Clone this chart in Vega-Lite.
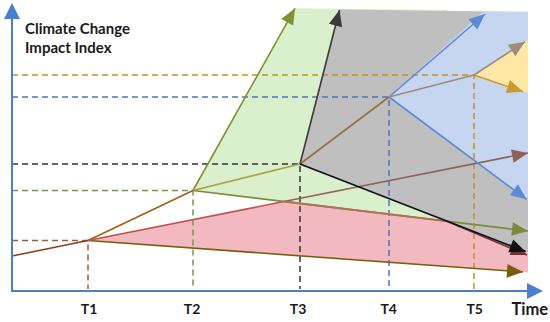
{
  "$schema": "https://vega.github.io/schema/vega-lite/v6.json",
  "width": 550,
  "height": 322,
  "autosize": {"type": "fit", "contains": "padding"},
  "padding": 0,
  "background": "white",
  "config": {"axis": {"disable": true}, "legend": {"disable": true}, "view": {"stroke": null}},
  "datasets": {
    "regions": [
      {"s": "pink", "x": 76, "y": 50.5, "y2": 50.5},
      {"s": "pink", "x": 272, "y": 89.5, "y2": 36.3},
      {"s": "pink", "x": 435, "y": 69.8, "y2": 24.5},
      {"s": "pink", "x": 516, "y": 38.3, "y2": 18.6},
      {"s": "green", "x": 181, "y": 100.5, "y2": 100.5},
      {"s": "green", "x": 283, "y": 282.7, "y2": 88.2},
      {"s": "green", "x": 435, "y": 281, "y2": 69.8},
      {"s": "grey", "x": 288, "y": 127, "y2": 127},
      {"s": "grey", "x": 327.5, "y": 281.5, "y2": 111.6},
      {"s": "grey", "x": 516, "y": 279, "y2": 38.3},
      {"s": "blue", "x": 377, "y": 194, "y2": 194},
      {"s": "blue", "x": 471, "y": 279.3, "y2": 124.2},
      {"s": "blue", "x": 516, "y": 279.3, "y2": 90.7},
      {"s": "yellow", "x": 462, "y": 216, "y2": 216},
      {"s": "yellow", "x": 516, "y": 251, "y2": 198.5}
    ],
    "dashes": [
      {"s": "d_red", "i": 0, "x": 0, "y": 50.5},
      {"s": "d_red", "i": 1, "x": 76, "y": 50.5},
      {"s": "d_red", "i": 2, "x": 76, "y": 2},
      {"s": "d_green", "i": 0, "x": 0, "y": 100.5},
      {"s": "d_green", "i": 1, "x": 181, "y": 100.5},
      {"s": "d_green", "i": 2, "x": 181, "y": 2},
      {"s": "d_black", "i": 0, "x": 0, "y": 127},
      {"s": "d_black", "i": 1, "x": 288, "y": 127},
      {"s": "d_black", "i": 2, "x": 288, "y": 2},
      {"s": "d_blue", "i": 0, "x": 0, "y": 194},
      {"s": "d_blue", "i": 1, "x": 377, "y": 194},
      {"s": "d_blue", "i": 2, "x": 377, "y": 2},
      {"s": "d_orange", "i": 0, "x": 0, "y": 216},
      {"s": "d_orange", "i": 1, "x": 462, "y": 216},
      {"s": "d_orange", "i": 2, "x": 462, "y": 2}
    ],
    "lines": [
      {"s": "start", "i": 0, "x": 0, "y": 35},
      {"s": "start", "i": 1, "x": 76, "y": 50.5},
      {"s": "t1t2", "i": 0, "x": 76, "y": 50.5},
      {"s": "t1t2", "i": 1, "x": 181, "y": 100.5},
      {"s": "bottom", "i": 0, "x": 76, "y": 50.5},
      {"s": "bottom", "i": 1, "x": 511, "y": 19},
      {"s": "red", "i": 0, "x": 76, "y": 50.5},
      {"s": "red", "i": 1, "x": 272, "y": 89.5},
      {"s": "olive", "i": 0, "x": 181, "y": 100.5},
      {"s": "olive", "i": 1, "x": 516, "y": 60},
      {"s": "mauve", "i": 0, "x": 272, "y": 89.5},
      {"s": "mauve", "i": 1, "x": 516, "y": 138},
      {"s": "darkred", "i": 0, "x": 435, "y": 69.8},
      {"s": "darkred", "i": 1, "x": 515, "y": 36},
      {"s": "greenup", "i": 0, "x": 181, "y": 100.5},
      {"s": "greenup", "i": 1, "x": 283, "y": 282.7},
      {"s": "t2t3", "i": 0, "x": 181, "y": 100.5},
      {"s": "t2t3", "i": 1, "x": 288, "y": 127},
      {"s": "blackup", "i": 0, "x": 288, "y": 127},
      {"s": "blackup", "i": 1, "x": 327.5, "y": 281},
      {"s": "t3t4", "i": 0, "x": 288, "y": 127},
      {"s": "t3t4", "i": 1, "x": 377, "y": 194},
      {"s": "blueup", "i": 0, "x": 377, "y": 194},
      {"s": "blueup", "i": 1, "x": 473, "y": 277},
      {"s": "bluedown", "i": 0, "x": 377, "y": 194},
      {"s": "bluedown", "i": 1, "x": 514.7, "y": 91.7},
      {"s": "t4t5", "i": 0, "x": 377, "y": 194},
      {"s": "t4t5", "i": 1, "x": 462, "y": 216},
      {"s": "tan", "i": 0, "x": 462, "y": 216},
      {"s": "tan", "i": 1, "x": 513, "y": 249.3},
      {"s": "orange", "i": 0, "x": 462, "y": 216},
      {"s": "orange", "i": 1, "x": 511, "y": 199.3}
    ],
    "toplines": [
      {"s": "peakj", "i": 0, "x": 272, "y": 89.5},
      {"s": "peakj", "i": 1, "x": 435, "y": 69.8},
      {"s": "blackdown", "i": 0, "x": 288, "y": 127},
      {"s": "blackdown", "i": 1, "x": 513.7, "y": 39.3}
    ],
    "arrows": [
      {"s": "greenup", "x": 283, "y": 282.7, "fx": 181, "fy": 100.5},
      {"s": "blackup", "x": 327.5, "y": 281, "fx": 288, "fy": 127},
      {"s": "blueup", "x": 473, "y": 277, "fx": 377, "fy": 194},
      {"s": "tan", "x": 513, "y": 249.3, "fx": 462, "fy": 216},
      {"s": "orange", "x": 511, "y": 199.3, "fx": 462, "fy": 216},
      {"s": "mauve", "x": 516, "y": 138, "fx": 76, "fy": 50.5},
      {"s": "bluedown", "x": 514.7, "y": 91.7, "fx": 377, "fy": 194},
      {"s": "olive", "x": 516, "y": 60, "fx": 181, "fy": 100.5},
      {"s": "darkred", "x": 515, "y": 36, "fx": 435, "fy": 69.8},
      {"s": "blackdown", "x": 513.7, "y": 39.3, "fx": 288, "fy": 127},
      {"s": "bottom", "x": 511, "y": 19, "fx": 76, "fy": 50.5}
    ],
    "axes": [
      {"s": "axis", "g": "x", "i": 0, "x": 0, "y": 0},
      {"s": "axis", "g": "x", "i": 1, "x": 520, "y": 0},
      {"s": "axis", "g": "y", "i": 0, "x": 0, "y": -1},
      {"s": "axis", "g": "y", "i": 1, "x": 0, "y": 275}
    ],
    "axisarrows": [
      {"s": "axis", "x": 531, "y": 0, "fx": 0, "fy": 0},
      {"s": "axis", "x": 0, "y": 288, "fx": 0, "fy": 0}
    ],
    "texts": [
      {"s": "txt", "k": "title", "t": "Climate Change", "x": 13, "y": 257.5},
      {"s": "txt", "k": "title", "t": "Impact Index", "x": 13, "y": 238.5},
      {"s": "txt", "k": "tick", "t": "T1", "x": 77, "y": -23},
      {"s": "txt", "k": "tick", "t": "T2", "x": 180, "y": -23},
      {"s": "txt", "k": "tick", "t": "T3", "x": 286, "y": -23},
      {"s": "txt", "k": "tick", "t": "T4", "x": 376.7, "y": -23},
      {"s": "txt", "k": "tick", "t": "T5", "x": 462.7, "y": -23},
      {"s": "txt", "k": "time", "t": "Time", "x": 499.5, "y": -24}
    ]
  },
  "encoding": {
    "x": {"field": "x", "type": "quantitative", "scale": {"domain": [-12, 538], "nice": false, "zero": false}},
    "y": {"field": "y", "type": "quantitative", "scale": {"domain": [-31, 291], "nice": false, "zero": false}},
    "color": {
      "field": "s",
      "type": "nominal",
      "legend": null,
      "scale": {
        "domain": ["pink", "green", "grey", "blue", "yellow", "d_red", "d_green", "d_black", "d_blue", "d_orange", "start", "t1t2", "bottom", "red", "mauve", "olive", "peakj", "darkred", "greenup", "t2t3", "blackup", "blackdown", "t3t4", "blueup", "bluedown", "t4t5", "tan", "orange", "axis", "txt"],
        "range": ["#f2b9c1", "#daf0cc", "#bfbfbf", "#c6d6f0", "#ffe7a8", "#a55a32", "#6e9a4e", "#333333", "#4a74c8", "#c4921e", "#8f3b1f", "#a0620f", "#7a5c10", "#c0504d", "#8e625a", "#7c8a3e", "#b0705a", "#7a2f36", "#7c9334", "#aaa044", "#3a3a3a", "#111111", "#94703e", "#5b8bd6", "#5b8bd6", "#9e8c78", "#9e8c78", "#cc9a2c", "#4a7fd0", "#1a1a1a"]
      }
    }
  },
  "layer": [
    {"data": {"name": "regions"}, "transform": [{"filter": "datum.s === 'pink'"}], "mark": {"type": "area", "opacity": 1}, "encoding": {"y2": {"field": "y2"}}},
    {"data": {"name": "regions"}, "transform": [{"filter": "datum.s === 'green'"}], "mark": {"type": "area", "opacity": 1}, "encoding": {"y2": {"field": "y2"}}},
    {"data": {"name": "regions"}, "transform": [{"filter": "datum.s === 'grey'"}], "mark": {"type": "area", "opacity": 1}, "encoding": {"y2": {"field": "y2"}}},
    {"data": {"name": "regions"}, "transform": [{"filter": "datum.s === 'blue'"}], "mark": {"type": "area", "opacity": 1}, "encoding": {"y2": {"field": "y2"}}},
    {"data": {"name": "regions"}, "transform": [{"filter": "datum.s === 'yellow'"}], "mark": {"type": "area", "opacity": 1}, "encoding": {"y2": {"field": "y2"}}},
    {"data": {"name": "dashes"}, "mark": {"type": "line", "strokeWidth": 1.5, "strokeDash": [6, 4]}, "encoding": {"order": {"field": "i"}}},
    {"data": {"name": "lines"}, "mark": {"type": "line", "strokeWidth": 1.6}, "encoding": {"order": {"field": "i"}}},
    {"data": {"name": "toplines"}, "mark": {"type": "line", "strokeWidth": 1.8}, "encoding": {"order": {"field": "i"}}},
    {
      "data": {"name": "arrows"},
      "transform": [{"calculate": "atan2(datum.x - datum.fx, datum.y - datum.fy) * 180 / PI", "as": "angle"}],
      "mark": {"type": "point", "shape": "M0,0L-0.85,2L0.85,2Z", "size": 256, "filled": true, "opacity": 1, "strokeWidth": 0},
      "encoding": {"angle": {"field": "angle", "type": "quantitative", "scale": null}}
    },
    {"data": {"name": "axes"}, "mark": {"type": "line", "strokeWidth": 2}, "encoding": {"order": {"field": "i"}, "detail": {"field": "g"}}},
    {
      "data": {"name": "axisarrows"},
      "transform": [{"calculate": "atan2(datum.x - datum.fx, datum.y - datum.fy) * 180 / PI", "as": "angle"}],
      "mark": {"type": "point", "shape": "M0,0L-1,2L1,2Z", "size": 256, "filled": true, "opacity": 1, "strokeWidth": 0},
      "encoding": {"angle": {"field": "angle", "type": "quantitative", "scale": null}}
    },
    {"data": {"name": "texts"}, "transform": [{"filter": "datum.k === 'title'"}], "mark": {"type": "text", "font": "Lato", "fontWeight": "bold", "fontSize": 15, "align": "left", "baseline": "alphabetic"}, "encoding": {"text": {"field": "t"}}},
    {"data": {"name": "texts"}, "transform": [{"filter": "datum.k === 'tick'"}], "mark": {"type": "text", "font": "Lato", "fontWeight": "bold", "fontSize": 14, "align": "center", "baseline": "alphabetic"}, "encoding": {"text": {"field": "t"}}},
    {"data": {"name": "texts"}, "transform": [{"filter": "datum.k === 'time'"}], "mark": {"type": "text", "font": "Lato", "fontWeight": "bold", "fontSize": 16.5, "align": "left", "baseline": "alphabetic"}, "encoding": {"text": {"field": "t"}}}
  ]
}
